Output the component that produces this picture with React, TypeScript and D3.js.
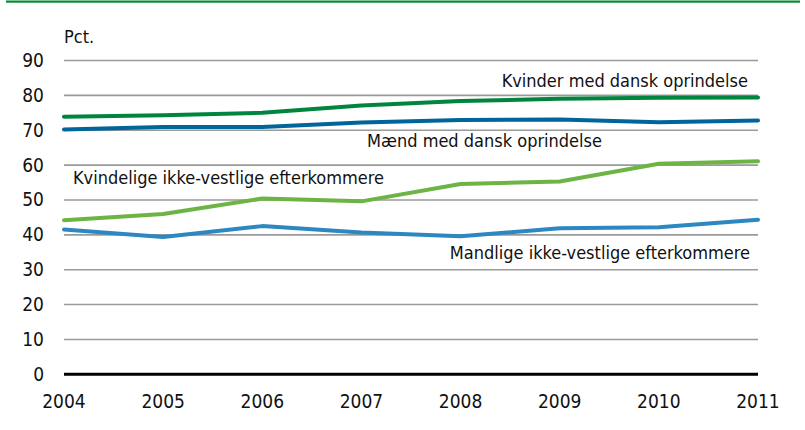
import React from "react";
import * as d3 from "d3";

const years = [2004, 2005, 2006, 2007, 2008, 2009, 2010, 2011];
const yTicks = [0, 10, 20, 30, 40, 50, 60, 70, 80, 90];

const kvinderDansk = [73.9, 74.3, 75.0, 77.1, 78.4, 79.0, 79.3, 79.4];
const maendDansk = [70.2, 70.9, 70.9, 72.2, 72.9, 73.1, 72.3, 72.8];
const kvinderIkkeVestlige = [44.2, 46.0, 50.4, 49.6, 54.6, 55.3, 60.4, 61.1];
const maendIkkeVestlige = [41.5, 39.4, 42.5, 40.7, 39.6, 41.9, 42.2, 44.3];

const seriesNames = [
  "Kvinder med dansk oprindelse",
  "Mænd med dansk oprindelse",
  "Kvindelige ikke-vestlige efterkommere",
  "Mandlige ikke-vestlige efterkommere",
];
const seriesColors = ["#00853f", "#00659a", "#6cb545", "#2b88c0"];
const seriesValues = [kvinderDansk, maendDansk, kvinderIkkeVestlige, maendIkkeVestlige];

// label placement: [x, y-value for baseline, anchor]
const labelPos: [number, number, string][] = [
  [748, 82.5, "end"],
  [602, 65.2, "end"],
  [73, 54.5, "start"],
  [750, 33.1, "end"],
];

const FONT = "'Liberation Sans Narrow', 'DejaVu Sans Condensed', 'Roboto Condensed', sans-serif";

export default function App() {
  const W = 805;
  const H = 430;
  const x = d3.scaleLinear().domain([2004, 2011]).range([64, 758]);
  const y = d3.scaleLinear().domain([0, 90]).range([374.3, 60.5]);
  const line = d3
    .line<number>()
    .x((_, i) => x(years[i]))
    .y((d) => y(d));

  return (
    <svg
      width={W}
      height={H}
      style={{ position: "absolute", left: 0, top: 0, background: "#fff" }}
      fontFamily={FONT}
    >
      <rect x={6} y={0.5} width={794} height={2.2} fill="#008a2e" />
      <text x={64} y={43} fontSize={18} fill="#111">
        Pct.
      </text>
      {yTicks.map((t) => (
        <g key={t}>
          {t > 0 && (
            <line x1={64} x2={758} y1={y(t)} y2={y(t)} stroke="#9a9a9a" strokeWidth={1.6} />
          )}
          <text x={44} y={y(t) + 6.5} fontSize={19} textAnchor="end" fill="#111">
            {t}
          </text>
        </g>
      ))}
      <line x1={64} x2={758} y1={y(0)} y2={y(0)} stroke="#000" strokeWidth={3} />
      {years.map((yr) => (
        <text key={yr} x={x(yr)} y={408} fontSize={19} textAnchor="middle" fill="#111">
          {yr}
        </text>
      ))}
      {seriesValues.map((vals, i) => (
        <path
          key={i}
          d={line(vals) || ""}
          fill="none"
          stroke={seriesColors[i]}
          strokeWidth={4}
          strokeLinejoin="round"
          strokeLinecap="round"
        />
      ))}
      {seriesNames.map((name, i) => (
        <text
          key={name}
          x={labelPos[i][0]}
          y={y(labelPos[i][1])}
          fontSize={18}
          textAnchor={labelPos[i][2] as any}
          fill="#111"
        >
          {name}
        </text>
      ))}
    </svg>
  );
}
